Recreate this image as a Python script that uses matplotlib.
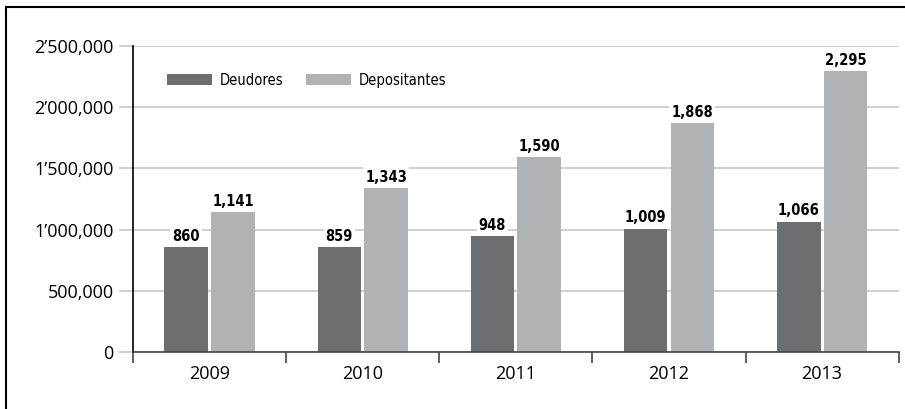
import numpy as np
import matplotlib.pyplot as plt
from matplotlib.patches import Rectangle
from matplotlib.ticker import FuncFormatter

# Deudores y depositantes (miles)
anios = ["2009", "2010", "2011", "2012", "2013"]
deudores = [860, 859, 948, 1009, 1066]
depositantes = [1141, 1343, 1590, 1868, 2295]

c_deud = "#6d6e70"
c_depo = "#b1b2b4"

fig = plt.figure(figsize=(9.05, 4.09), dpi=100)
ax = fig.add_axes([0.147, 0.139, 0.846, 0.749])

x = np.arange(len(anios))
w = 0.285
gap = 0.01
b1 = ax.bar(x - w/2 - gap, np.array(deudores) * 1000, w, color=c_deud, label="Deudores", zorder=2)
b2 = ax.bar(x + w/2 + gap, np.array(depositantes) * 1000, w, color=c_depo, label="Depositantes", zorder=2)

# Etiquetas de valor
for barras, vals in [(b1, deudores), (b2, depositantes)]:
    for b, v in zip(barras, vals):
        ax.text(b.get_x() + b.get_width()/2, b.get_height() + 25000, f"{v:,}",
                ha="center", va="bottom", fontsize=10.5, fontweight="bold",
                family="DejaVu Sans", fontstretch="condensed", zorder=3,
                bbox=dict(facecolor="white", edgecolor="none", pad=1.5))

# Eje Y con apostrofo para millones
def fmt_y(v, pos):
    v = int(round(v))
    if v >= 1000000:
        m = v // 1000000
        r = v % 1000000
        return f"{m}\u2019{r // 1000:03d},{r % 1000:03d}"
    return f"{v:,}"

ax.set_ylim(0, 2500000)
ax.set_yticks(np.arange(0, 2500001, 500000))
ax.yaxis.set_major_formatter(FuncFormatter(fmt_y))
ax.grid(axis="y", color="#c8c8c8", linewidth=1.2, zorder=0)
ax.tick_params(axis="y", length=10, color="#c8c8c8", width=1.2, labelsize=13, pad=4)

# Eje X
ax.set_xlim(-0.5, len(anios) - 0.5)
ax.set_xticks(x)
ax.set_xticklabels(anios)
ax.set_xticks(np.arange(-0.5, len(anios)), minor=True)
ax.tick_params(axis="x", which="major", length=0, labelsize=13, pad=9)
ax.tick_params(axis="x", which="minor", length=8, width=1.2, color="#444444")

for s in ["top", "right"]:
    ax.spines[s].set_visible(False)
ax.spines["left"].set_color("black")
ax.spines["left"].set_linewidth(1.2)
ax.spines["bottom"].set_color("#444444")
ax.spines["bottom"].set_linewidth(1.2)

for lab in ax.get_xticklabels() + ax.get_yticklabels():
    lab.set_family("Open Sans")

ax.legend(loc="upper left", bbox_to_anchor=(0.027, 0.955), ncol=2, frameon=False,
          handlelength=3.1, handleheight=0.75, columnspacing=1.5, handletextpad=0.55,
          prop={"family": "DejaVu Sans", "stretch": "condensed", "size": 10.5})

# Marco
fig.patches.append(Rectangle((6/905, -0.1), 1.2, 1.1 - 7/409, transform=fig.transFigure,
                             fill=False, edgecolor="black", linewidth=1.5))

plt.savefig("out.png", dpi=100)
